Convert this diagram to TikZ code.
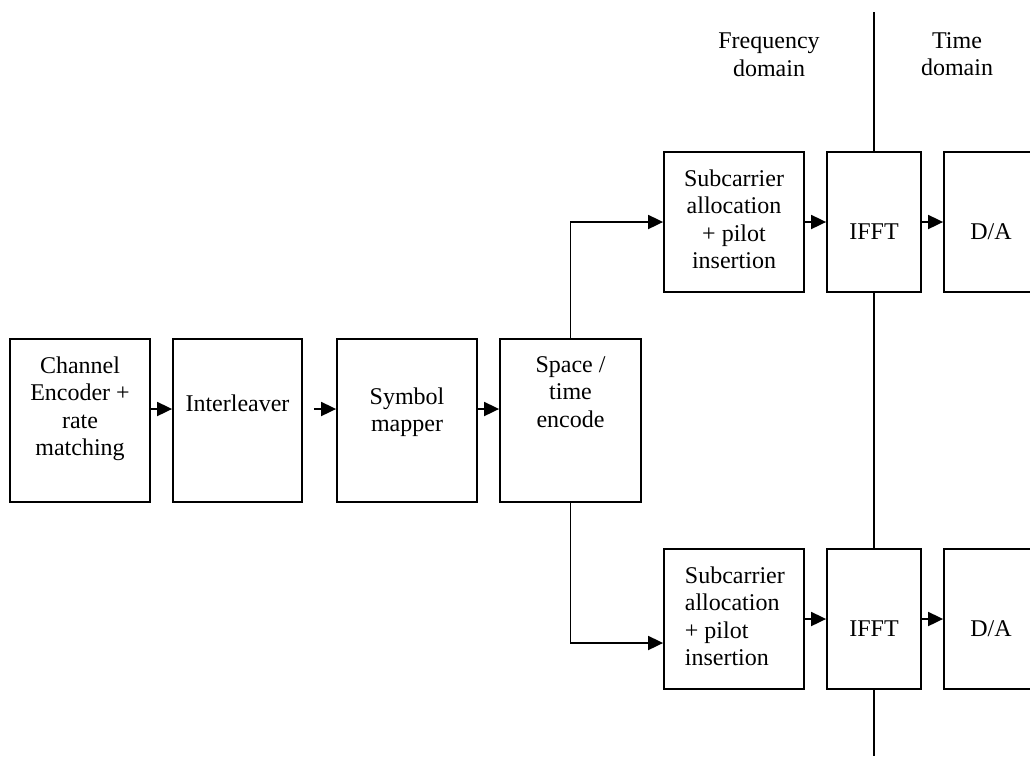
\documentclass[tikz,border=0pt]{standalone}
\usepackage{fontspec}
\setmainfont{Liberation Serif}
\usetikzlibrary{
    positioning,
    arrows.meta,
    calc
}

\begin{document}
\begin{tikzpicture}[
            x=1pt, y=-1pt,
            font=\fontsize{24}{27.5}\selectfont,
            >={Triangle[length=15pt,width=14pt]},
            line width=1.8pt,
            mainblk/.style={draw, fill=white, inner sep=0pt, minimum height=163pt},
            brblk/.style={draw, fill=white, inner sep=0pt, minimum height=140pt},
            txt/.style={inner sep=0pt, align=center},
        ]

        % Page frame
        \useasboundingbox (0,0) rectangle (1030,756);
        \clip (0,0) rectangle (1030,756);

        % Row heights
        \def\rowT{222}
        \def\rowM{420.5}
        \def\rowB{619}

        % Main chain
        \node[mainblk, minimum width=140pt] (enc)  at (80,\rowM)    {};
        \node[mainblk, minimum width=129pt] (intl) at (237.5,\rowM) {};
        \node[mainblk, minimum width=140pt] (map)  at (407,\rowM)   {};
        \node[mainblk, minimum width=141pt] (stc)  at (570.5,\rowM) {};

        \node[txt, anchor=north] (encTxt)  at (80,355.6)    {Channel\\Encoder +\\rate\\matching};
        \node[txt, anchor=base]  (intlTxt) at (237.5,411)   {Interleaver};
        \node[txt, anchor=north] (mapTxt)  at (407,386.6)   {Symbol\\mapper};
        \node[txt, anchor=north] (stcTxt)  at (570.5,355.6) {Space /\\time\\encode};

        % Two transmit branches
        \foreach \r/\y in {A/\rowT, B/\rowB} {
            \node[brblk, minimum width=140pt] (sub\r)  at (734,\y) {};
            \node[brblk, minimum width=94pt]  (ifft\r) at (874,\y) {};
            \node[brblk, minimum width=94pt]  (da\r)   at (991,\y) {};
            \node[txt, anchor=base] (ifftTxt\r) at (874,\y+17.5) {IFFT};
            \node[txt, anchor=base] (daTxt\r)   at (991,\y+17.5) {D/A};
            \draw[->] (sub\r.east) -- (ifft\r.west);
            \draw[->] (ifft\r.east) -- (da\r.west);
        }
        \node[txt, anchor=north] (subTxtA) at (734,168.6) {Subcarrier\\allocation\\+ pilot\\insertion};
        \node[txt, anchor=north west, align=left] (subTxtB) at (684,565.6) {Subcarrier\\allocation\\+ pilot\\insertion};

        % Chain arrows
        \coordinate (row) at (0,409);
        \draw[->] (enc.east |- row) -- (intl.west |- row);
        \draw[->] ([xshift=11pt]intl.east |- row) -- (map.west |- row);
        \draw[->] (map.east |- row) -- (stc.west |- row);
        \draw[->] (stc.north) |- (subA.west);
        \draw[->] (stc.south) |- ([yshift=-24pt]subB.west);

        % Domain border
        \coordinate (lineTop) at (874,12);
        \coordinate (lineBot) at (874,756);
        \draw (lineTop) -- (ifftA.north);
        \draw (ifftA.south) -- (ifftB.north);
        \draw (ifftB.south) -- (lineBot);

        \node[txt, anchor=north] (freqTxt) at (769,32)   {Frequency\\domain};
        \node[txt, anchor=north] (timeTxt) at (957,31.6) {Time\\domain};
\end{tikzpicture}
\end{document}
